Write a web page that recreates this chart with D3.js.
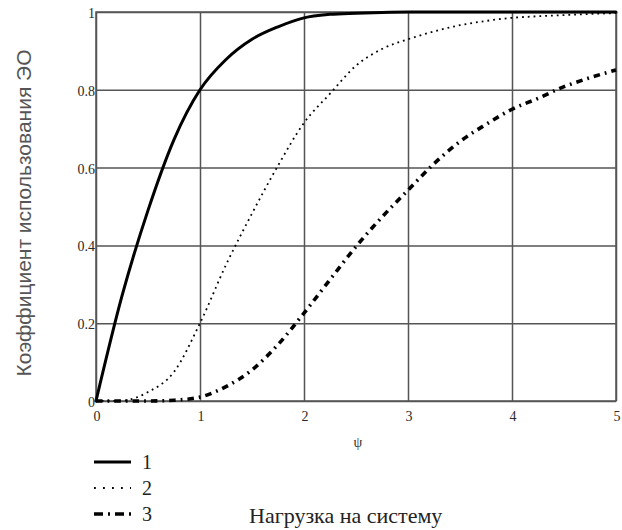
<!DOCTYPE html>
<html>
<head>
<meta charset="utf-8">
<script src="https://cdn.jsdelivr.net/npm/d3@7"></script>
<style>
  body { margin: 0; background: #fff; }
  svg { display: block; }
</style>
</head>
<body>
<svg id="chart" width="622" height="530"></svg>
<script>
// load values
const psi = [0, 0.25, 0.5, 0.75, 1, 1.25, 1.5, 1.75, 2, 2.25, 2.5, 2.75, 3, 3.25, 3.5, 3.75, 4, 4.25, 4.5, 4.75, 5]
const curve1 = [0, 0.27, 0.49, 0.672, 0.8, 0.878, 0.93, 0.962, 0.985, 0.994, 0.997, 0.999, 1, 1, 1, 1, 1, 1, 1, 1, 1]
const curve2 = [0, 0.001, 0.023, 0.075, 0.2, 0.35, 0.482, 0.605, 0.715, 0.79, 0.862, 0.905, 0.93, 0.95, 0.966, 0.977, 0.985, 0.989, 0.992, 0.995, 0.997]
const curve3 = [0, 0, 0, 0.002, 0.01, 0.037, 0.08, 0.145, 0.226, 0.312, 0.397, 0.473, 0.542, 0.61, 0.667, 0.711, 0.75, 0.778, 0.808, 0.831, 0.851]

const seriesNames = ['1', '2', '3']
const xTicks = [0, 1, 2, 3, 4, 5]
const yTicks = [0, 0.2, 0.4, 0.6, 0.8, 1]
const xTitle = 'ψ'
const yTitle = 'Коэффициент использования ЭО'
const bottomTitle = 'Нагрузка на систему'

var margin = { top: 12, right: 6, bottom: 129, left: 96 }
var svg = d3.select('#chart')
var width = 622 - margin.left - margin.right
var height = 530 - margin.top - margin.bottom

var x = d3.scaleLinear().domain([0, 5]).range([margin.left, margin.left + width])
var y = d3.scaleLinear().domain([0, 1]).range([margin.top + height, margin.top])

var gridColor = '#555'
var serif = 'Liberation Serif, Times New Roman, serif'

// grid (vertical + horizontal) via axes with long ticks
svg.append('g')
  .attr('transform', 'translate(0,' + (margin.top + height) + ')')
  .call(d3.axisBottom(x).tickValues(xTicks).tickSize(-height).tickFormat(''))
  .call(g => g.select('.domain').remove())
  .selectAll('line')
  .attr('stroke', gridColor)
  .attr('stroke-width', 1.5)

svg.append('g')
  .attr('transform', 'translate(' + margin.left + ',0)')
  .call(d3.axisLeft(y).tickValues(yTicks).tickSize(-width).tickFormat(''))
  .call(g => g.select('.domain').remove())
  .selectAll('line')
  .attr('stroke', gridColor)
  .attr('stroke-width', 1.5)

// frame
svg.append('rect')
  .attr('x', x(0))
  .attr('y', y(1))
  .attr('width', x(5) - x(0))
  .attr('height', y(0) - y(1))
  .attr('fill', 'none')
  .attr('stroke', gridColor)
  .attr('stroke-width', 1.5)

// tick labels
svg.append('g')
  .selectAll('text')
  .data(xTicks)
  .enter()
  .append('text')
  .attr('x', d => x(d) + 1)
  .attr('y', y(0) + 20)
  .attr('text-anchor', 'middle')
  .attr('font-family', serif)
  .attr('font-size', 14)
  .attr('fill', '#2a2a2a')
  .text(d => d)

svg.append('g')
  .selectAll('text')
  .data(yTicks)
  .enter()
  .append('text')
  .attr('x', x(0) - 1)
  .attr('y', d => y(d) + 6)
  .attr('text-anchor', 'end')
  .attr('font-family', serif)
  .attr('font-size', 14)
  .attr('fill', '#2a2a2a')
  .text(d => d3.format('~g')(d))

// curves
var styles = [
  { width: 3, dash: null, cap: 'round' },
  { width: 1.8, dash: '1.8,4', cap: 'butt' },
  { width: 3.6, dash: '6.5,5,1.8,5', cap: 'butt' }
]
var series = [curve1, curve2, curve3]

var line = d3.line()
  .x(function (d, i) { return x(psi[i]) })
  .y(function (d) { return y(d) })
  .curve(d3.curveMonotoneX)

svg.append('g')
  .selectAll('path')
  .data(series)
  .enter()
  .append('path')
  .attr('d', line)
  .attr('fill', 'none')
  .attr('stroke', '#000')
  .attr('stroke-width', (d, i) => styles[i].width)
  .attr('stroke-dasharray', (d, i) => styles[i].dash)
  .attr('stroke-linecap', (d, i) => styles[i].cap)
  .attr('stroke-linejoin', 'round')

// axis titles
svg.append('text')
  .attr('x', 358)
  .attr('y', 447)
  .attr('text-anchor', 'middle')
  .attr('font-family', serif)
  .attr('font-size', 14)
  .attr('fill', '#333')
  .text(xTitle)

svg.append('text')
  .attr('transform', 'translate(31,213) rotate(-90)')
  .attr('text-anchor', 'middle')
  .attr('font-family', 'Liberation Sans, Arial, sans-serif')
  .attr('font-size', 21)
  .attr('fill', '#555')
  .text(yTitle)

svg.append('text')
  .attr('x', 249)
  .attr('y', 523)
  .attr('font-family', serif)
  .attr('font-size', 22)
  .attr('fill', '#222')
  .text(bottomTitle)

// legend
var legendDash = [null, '1.8,7.2', '9,5,2,5']
var legend = svg.append('g')
  .selectAll('g')
  .data(seriesNames)
  .enter()
  .append('g')
  .attr('transform', (d, i) => 'translate(94,' + (462 + i * 26) + ')')

legend.append('line')
  .attr('x1', 0)
  .attr('x2', 37)
  .attr('stroke', '#000')
  .attr('stroke-width', (d, i) => styles[i].width)
  .attr('stroke-dasharray', (d, i) => legendDash[i])

legend.append('text')
  .attr('x', 48)
  .attr('y', 7)
  .attr('font-family', serif)
  .attr('font-size', 20)
  .attr('fill', '#222')
  .text(d => d)
</script>
</body>
</html>
